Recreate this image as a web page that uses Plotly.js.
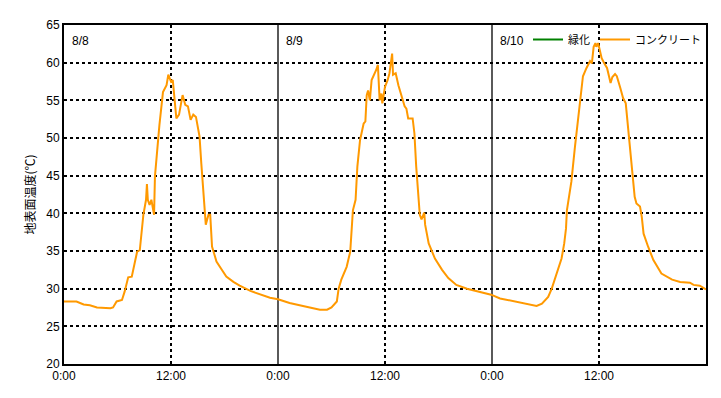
<!DOCTYPE html>
<html>
<head>
<meta charset="utf-8">
<script src="https://cdn.plot.ly/plotly-3.0.1.min.js"></script>
<style>html,body{margin:0;padding:0;background:#fff;}#chart{width:721px;height:398px;}</style>
</head>
<body>
<div id="chart"></div>
<script>
// hours since 8/8 0:00
const hours = [0,1.4,2.2,2.9,3.7,5.2,5.5,5.9,6.5,6.8,7.2,7.6,8.0,8.2,8.5,8.9,9.2,9.3,9.4,9.6,9.8,10.1,10.2,10.5,10.7,11.1,11.5,11.7,12.0,12.2,12.6,12.9,13.3,13.6,13.9,14.2,14.5,14.8,15.2,15.4,15.7,15.9,16.2,16.4,16.6,17.1,17.7,18.2,19.0,19.7,20.9,22.0,23.1,24.0,25.3,26.8,28.7,29.5,30.0,30.6,30.8,31.1,31.7,32.1,32.3,32.4,32.7,32.9,33.2,33.6,33.8,33.95,34.1,34.3,34.5,34.8,35.0,35.2,35.4,35.6,35.7,36.0,36.3,36.5,36.8,36.9,37.2,37.5,37.9,38.2,38.4,38.6,39.1,39.3,39.5,39.7,39.8,39.9,40.1,40.4,40.5,40.9,41.6,42.4,43.1,44.0,45.2,46.7,47.9,48.9,50.4,51.5,53.0,53.6,54.3,54.7,55.3,55.8,56.1,56.3,56.4,56.6,56.9,57.3,57.6,57.9,58.2,58.6,59.0,59.2,59.4,59.6,59.7,59.9,60.1,60.3,60.6,60.9,61.3,61.5,61.8,62.0,62.4,62.7,63.0,63.2,63.5,63.8,64.0,64.2,64.6,64.8,65.0,65.5,66.1,67.0,68.2,69.1,70.2,70.6,71.3,72.0];
const concrete = [28.3,28.3,27.9,27.8,27.5,27.4,27.5,28.3,28.5,29.6,31.5,31.6,33.8,34.9,35.1,39.8,41.8,43.9,41.8,41.1,41.8,39.8,44.9,49.3,51.7,56.1,57.0,58.4,57.5,57.7,52.6,53.1,55.7,54.4,54.2,52.4,53.1,52.8,50.2,46.6,41.1,38.5,39.8,39.8,35.6,33.6,32.5,31.6,30.9,30.4,29.7,29.3,28.8,28.6,28.1,27.7,27.2,27.2,27.5,28.3,30.0,31.2,32.9,34.9,38.2,40.4,41.8,46.2,49.7,51.9,52.2,55.7,56.3,55.0,57.7,58.4,59.0,59.7,55.0,55.9,54.6,56.8,57.7,58.6,61.2,58.4,58.6,57.0,55.5,54.2,53.9,52.6,52.6,50.6,46.2,42.7,41.8,39.8,39.2,40.1,38.5,36.0,34.0,32.5,31.4,30.5,30.0,29.5,29.2,28.7,28.3,28.0,27.7,28.0,28.9,30.0,32.2,34.0,36.0,38.0,40.4,42.0,44.2,48.8,51.9,55.0,58.2,59.3,60.2,59.9,62.1,62.6,62.1,62.6,61.7,60.6,59.9,59.3,57.3,58.1,58.5,58.2,56.6,55.3,54.6,51.9,48.0,44.9,42.2,41.3,40.9,39.5,37.3,35.6,33.8,32.0,31.2,30.9,30.8,30.5,30.4,29.9];
const greenHours = [null];
const greenValues = [null];
const tickHours = [0,12,24,36,48,60];
const tickLabels = ["0:00","12:00","0:00","12:00","0:00","12:00"];
const noonHours = [12,36,60];
const midnightHours = [24,48];
const dayStarts = [0,24,48];
const dayLabels = ["8/8","8/9","8/10"];

const traces = [
  {x: greenHours, y: greenValues, type: 'scatter', mode: 'lines', name: '緑化',
   line: {color: '#008000', width: 2}, showlegend: true},
  {x: hours, y: concrete, type: 'scatter', mode: 'lines', name: 'コンクリート',
   line: {color: '#FF9900', width: 2}}
];

const shapes = [];
noonHours.forEach(h => shapes.push({type: 'line', xref: 'x', yref: 'paper', x0: h, x1: h, y0: 0, y1: 1,
  line: {color: '#000', width: 2, dash: 'dot'}, layer: 'below'}));
midnightHours.forEach(h => shapes.push({type: 'line', xref: 'x', yref: 'paper', x0: h, x1: h, y0: 0, y1: 1,
  line: {color: '#000', width: 1.3}, layer: 'below'}));

const annotations = dayStarts.map((h, i) => ({
  x: h, y: 1, xref: 'x', yref: 'paper', xanchor: 'left', yanchor: 'top',
  xshift: 6, yshift: -7, text: dayLabels[i], showarrow: false,
  font: {family: 'Liberation Sans, Arial, sans-serif', size: 12, color: '#000'}
}));

const layout = {
  width: 721, height: 398,
  margin: {l: 64, r: 15, t: 25, b: 34},
  paper_bgcolor: '#fff', plot_bgcolor: '#fff',
  font: {family: 'Liberation Sans, Arial, sans-serif', size: 12, color: '#000'},
  xaxis: {range: [0, 72], tickvals: tickHours, ticktext: tickLabels, showgrid: false,
    zeroline: false, showline: true, mirror: true, linecolor: '#000', linewidth: 2,
    ticks: '', tickfont: {size: 12}},
  yaxis: {range: [20, 65], dtick: 5, tick0: 20, showgrid: true, gridcolor: '#000', gridwidth: 2,
    griddash: 'dot', zeroline: false, showline: true, mirror: true, linecolor: '#000', linewidth: 2,
    ticks: '', tickfont: {size: 12},
    title: {text: '地表面温度(℃)', font: {family: 'Noto Sans CJK JP, sans-serif', size: 12}, standoff: 8}},
  legend: {orientation: 'h', x: 1, xanchor: 'right', y: 1, yanchor: 'top', bgcolor: 'rgba(0,0,0,0)',
    borderwidth: 0, font: {family: 'Noto Sans CJK JP, sans-serif', size: 11}, itemwidth: 30,
    tracegroupgap: 0},
  shapes: shapes,
  annotations: annotations,
  showlegend: true
};

Plotly.newPlot('chart', traces, layout, {displayModeBar: false, staticPlot: true});
</script>
</body>
</html>
